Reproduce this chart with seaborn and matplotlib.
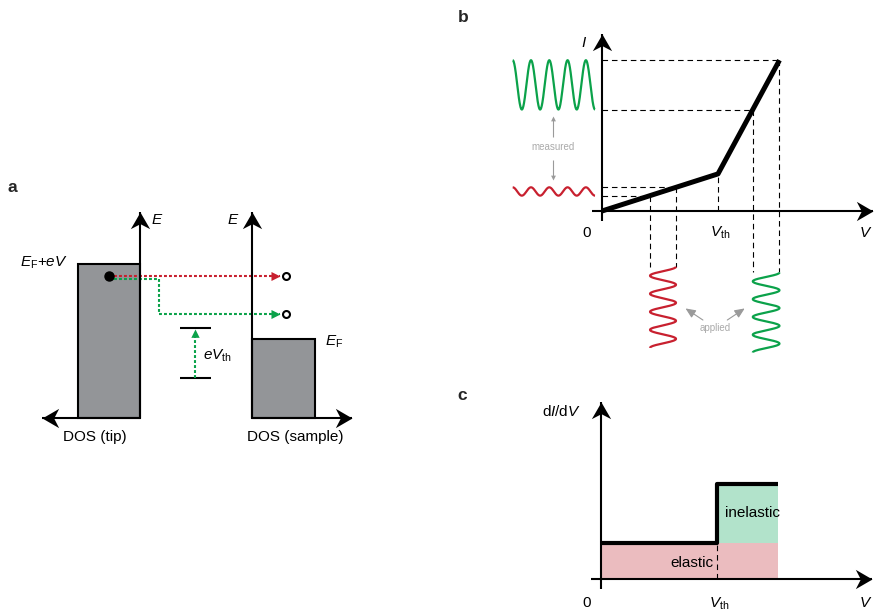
import numpy as np
import matplotlib
matplotlib.use("Agg")
import matplotlib.pyplot as plt
import seaborn as sns
from matplotlib.markers import MarkerStyle
from matplotlib.path import Path
from matplotlib.transforms import Affine2D
from matplotlib.patches import Rectangle

# ---------------- values ----------------
# (a) tunnelling picture: densities of states and energies
tip_dos = 0.62
sample_dos = 0.63
tip_level = 1.54          # E_F + eV of the tip
sample_fermi = 0.79       # E_F of the sample
electron_energy = 1.42    # tunnelling electron
inelastic_energy = 1.04   # final state after losing eV_th
loss_turn = 0.19          # where the inelastic path drops
final_x = 1.46            # empty final states in the sample
vth_bracket = [0.40, 0.90]

# (b) I-V curve with a kink at V_th
iv_V = [0.0, 1.0, 1.53]
iv_I = [0.0, 0.32, 1.30]
red_mod = [0.414, 0.638]      # voltage modulation below V_th
green_mod = [1.30, 1.53]      # voltage modulation above V_th
wave_cycles = 4.5

# (c) differential conductance
didv_V = [0.0, 1.0, 1.0, 1.53]
didv = [0.31, 0.31, 0.82, 0.82]
V_th = 1.0

RED = "#c8202f"
GREEN = "#0ba24a"
GREY_BAR = "#939598"
PINK = "#ebbcbf"
MINT = "#b2e3cb"
SOFT = "#9a9a9a"

W, H = 876, 615
sns.set_theme(style="white")
plt.rcParams["font.family"] = ["Liberation Sans", "DejaVu Sans"]
plt.rcParams["mathtext.fontset"] = "custom"
plt.rcParams["mathtext.rm"] = "Liberation Sans"
plt.rcParams["mathtext.it"] = "Liberation Sans:italic"
plt.rcParams["mathtext.bf"] = "Liberation Sans:bold"
plt.rcParams["lines.solid_capstyle"] = "butt"
plt.rcParams["lines.dash_capstyle"] = "butt"

fig = plt.figure(figsize=(W / 100, H / 100), dpi=100)
fig.patch.set_facecolor("white")


def layer(ox, oy, s):
    """Transparent full-figure axes whose data origin sits at pixel (ox, oy)."""
    ax = fig.add_axes([0, 0, 1, 1])
    ax.set_xlim(-ox / s, (W - ox) / s)
    ax.set_ylim(-(H - oy) / s, oy / s)
    ax.axis("off")
    ax.patch.set_alpha(0)
    return ax


STEALTH = Path([(0, 0), (-0.58, -1), (0, -0.7), (0.58, -1), (0, 0)],
               [Path.MOVETO, Path.LINETO, Path.LINETO, Path.LINETO, Path.CLOSEPOLY])
TRI = Path([(0, 0), (-0.5, -1), (0.5, -1), (0, 0)],
           [Path.MOVETO, Path.LINETO, Path.LINETO, Path.CLOSEPOLY])
ANG = {"up": 0, "down": 180, "left": 90, "right": -90}


def head(ax, x, y, direction, size=24, color="black", shape=STEALTH, z=5):
    m = MarkerStyle(shape, transform=Affine2D().rotate_deg(ANG[direction]))
    ax.plot([x], [y], marker=m, ms=size, color=color, mew=0, ls="none", zorder=z)


def axis_arrow(ax, x0, y0, x1, y1, direction, lw=1.5):
    ax.plot([x0, x1], [y0, y1], color="black", lw=lw, zorder=4)
    head(ax, x1, y1, direction)


DASH = dict(color="black", lw=0.8, ls=(0, (5, 3.5)), zorder=2)
DOT = dict(lw=1.5, ls=(0, (1.4, 1.0)), zorder=3)
TXT = dict(fontsize=11, color="black")

# ================= panel a =================
axa = layer(140, 418, 100)
sample_x0 = 1.12
axa.add_patch(Rectangle((-tip_dos, 0), tip_dos, tip_level, facecolor=GREY_BAR,
                        edgecolor="black", lw=1.5, zorder=2))
axa.add_patch(Rectangle((sample_x0, 0), sample_dos, sample_fermi, facecolor=GREY_BAR,
                        edgecolor="black", lw=1.5, zorder=2))
axis_arrow(axa, 0, 0, 0, 2.06, "up")
axis_arrow(axa, 0, 0, -0.98, 0, "left")
axis_arrow(axa, sample_x0, 0, sample_x0, 2.06, "up")
axis_arrow(axa, sample_x0, 0, 2.12, 0, "right")

# elastic (red) and inelastic (green) tunnelling paths
ex = -0.31
axa.plot([ex, final_x - 0.06], [electron_energy, electron_energy], color=RED, **DOT)
head(axa, final_x - 0.06, electron_energy, "right", size=13, color=RED, shape=TRI)
axa.plot([ex, loss_turn, loss_turn, final_x - 0.06],
         [electron_energy - 0.03, electron_energy - 0.03, inelastic_energy, inelastic_energy],
         color=GREEN, **DOT)
head(axa, final_x - 0.06, inelastic_energy, "right", size=13, color=GREEN, shape=TRI)
axa.plot([ex], [electron_energy], "o", color="black", ms=6.5, zorder=6)
axa.plot([final_x, final_x], [electron_energy, inelastic_energy], "o", ls="none",
         mfc="white", mec="black", mew=1.5, ms=5, zorder=6)

# eV_th bracket
bx0, bx1 = 0.40, 0.71
for yv in vth_bracket:
    axa.plot([bx0, bx1], [yv, yv], color="black", lw=1.5, zorder=3)
bxm = 0.55
axa.plot([bxm, bxm], [vth_bracket[0], vth_bracket[1] - 0.05], color=GREEN, **DOT)
head(axa, bxm, vth_bracket[1] - 0.005, "up", size=12, color=GREEN, shape=TRI)

axa.text(0.17, 1.98, "$E$", ha="center", va="center", **TXT)
axa.text(sample_x0 - 0.19, 1.98, "$E$", ha="center", va="center", **TXT)
axa.text(-0.72, tip_level + 0.01, r"$E_{\rm F}$+$eV$", ha="right", va="center", **TXT)
axa.text(0.63, 0.62, r"$eV_{\rm th}$", ha="left", va="center", **TXT)
axa.text(1.85, sample_fermi - 0.03, r"$E_{\rm F}$", ha="left", va="center", **TXT)
axa.text(-0.45, -0.19, "DOS (tip)", ha="center", va="center", **TXT)
axa.text(1.55, -0.19, "DOS (sample)", ha="center", va="center", **TXT)

# ================= panel b =================
axb = layer(602, 211, 116)
axis_arrow(axb, -0.09, 0, 2.34, 0, "right")
axis_arrow(axb, 0, -0.09, 0, 1.53, "up")
sns.lineplot(x=iv_V, y=iv_I, ax=axb, color="black", lw=3.6, estimator=None,
             sort=False, zorder=6)
axb.set_xlim(-602 / 116, (W - 602) / 116)
axb.set_ylim(-(H - 211) / 116, 211 / 116)
axb.axis("off")

t = np.linspace(0, 1, 400)
wave = np.cos(2 * np.pi * wave_cycles * t)


def mod_block(vlo, vhi, col, top, bottom):
    ilo, ihi = np.interp([vlo, vhi], iv_V, iv_I)
    # projections onto the current and voltage axes
    for v, i in ((vlo, ilo), (vhi, ihi)):
        axb.plot([0, v], [i, i], **DASH)
        axb.plot([v, v], [i, top], **DASH)
    # measured current oscillation (left of the I axis)
    xs = -0.77 + (0.71) * t
    axb.plot(xs, (ilo + ihi) / 2 + (ihi - ilo) / 2 * wave, color=col, lw=1.6)
    # applied voltage oscillation (below the V axis)
    ys = top + (bottom - top) * t
    axb.plot((vlo + vhi) / 2 + (vhi - vlo) / 2 * wave, ys, color=col, lw=1.6)


mod_block(red_mod[0], red_mod[1], RED, -0.48, -1.18)
mod_block(green_mod[0], green_mod[1], GREEN, -0.53, -1.22)
axb.plot([V_th, V_th], [0, iv_I[1]], **DASH)

# "measured" and "applied" annotations
axb.plot([-0.42, -0.42], [0.64, 0.80], color=SOFT, lw=0.8)
head(axb, -0.42, 0.82, "up", size=7, color=SOFT, shape=TRI)
axb.plot([-0.42, -0.42], [0.44, 0.29], color=SOFT, lw=0.8)
head(axb, -0.42, 0.27, "down", size=7, color=SOFT, shape=TRI)
axb.text(-0.42, 0.55, "measured", ha="center", va="center", fontsize=7, color="#aaaaaa")
axb.annotate("", xy=(0.72, -0.84), xytext=(0.87, -0.94),
             arrowprops=dict(arrowstyle="-|>,head_length=0.5,head_width=0.22",
                             color=SOFT, lw=0.8, shrinkA=0, shrinkB=0))
axb.annotate("", xy=(1.23, -0.84), xytext=(1.08, -0.94),
             arrowprops=dict(arrowstyle="-|>,head_length=0.5,head_width=0.22",
                             color=SOFT, lw=0.8, shrinkA=0, shrinkB=0))
axb.text(0.975, -1.01, "applied", ha="center", va="center", fontsize=7, color="#aaaaaa")

axb.text(-0.155, 1.45, "$I$", ha="center", va="center", **TXT)
axb.text(-0.13, -0.19, "0", ha="center", va="center", **TXT)
axb.text(1.02, -0.19, r"$V_{\rm th}$", ha="center", va="center", **TXT)
axb.text(2.27, -0.19, "$V$", ha="center", va="center", **TXT)

# ================= panel c =================
axc = layer(601, 579, 116)
axc.fill_between([0, 1.53], 0, didv[0], color=PINK, lw=0, zorder=1)
axc.fill_between([V_th, 1.53], didv[0], didv[-1], color=MINT, lw=0, zorder=1)
axis_arrow(axc, -0.09, 0, 2.34, 0, "right")
axis_arrow(axc, 0, -0.09, 0, 1.53, "up")
sns.lineplot(x=didv_V, y=didv, ax=axc, color="black", lw=3.0, estimator=None,
             sort=False, zorder=6)
axc.set_xlim(-601 / 116, (W - 601) / 116)
axc.set_ylim(-(H - 579) / 116, 579 / 116)
axc.axis("off")
axc.plot([V_th, V_th], [0, didv[0]], **DASH)

axc.text(-0.34, 1.44, r"d$I$/d$V$", ha="center", va="center", **TXT)
axc.text(-0.12, -0.21, "0", ha="center", va="center", **TXT)
axc.text(1.02, -0.21, r"$V_{\rm th}$", ha="center", va="center", **TXT)
axc.text(2.28, -0.21, "$V$", ha="center", va="center", **TXT)
axc.text(0.78, 0.14, "elastic", ha="center", va="center", **TXT)
axc.text(1.31, 0.57, "inelastic", ha="center", va="center", **TXT)

# panel letters
for lab, (px, py) in {"a": (12, 187), "b": (463, 17), "c": (462, 395)}.items():
    fig.text(px / W, 1 - py / H, lab, ha="center", va="center", fontsize=12.5,
             fontweight="bold")

fig.savefig("out.png", dpi=100, facecolor="white")
